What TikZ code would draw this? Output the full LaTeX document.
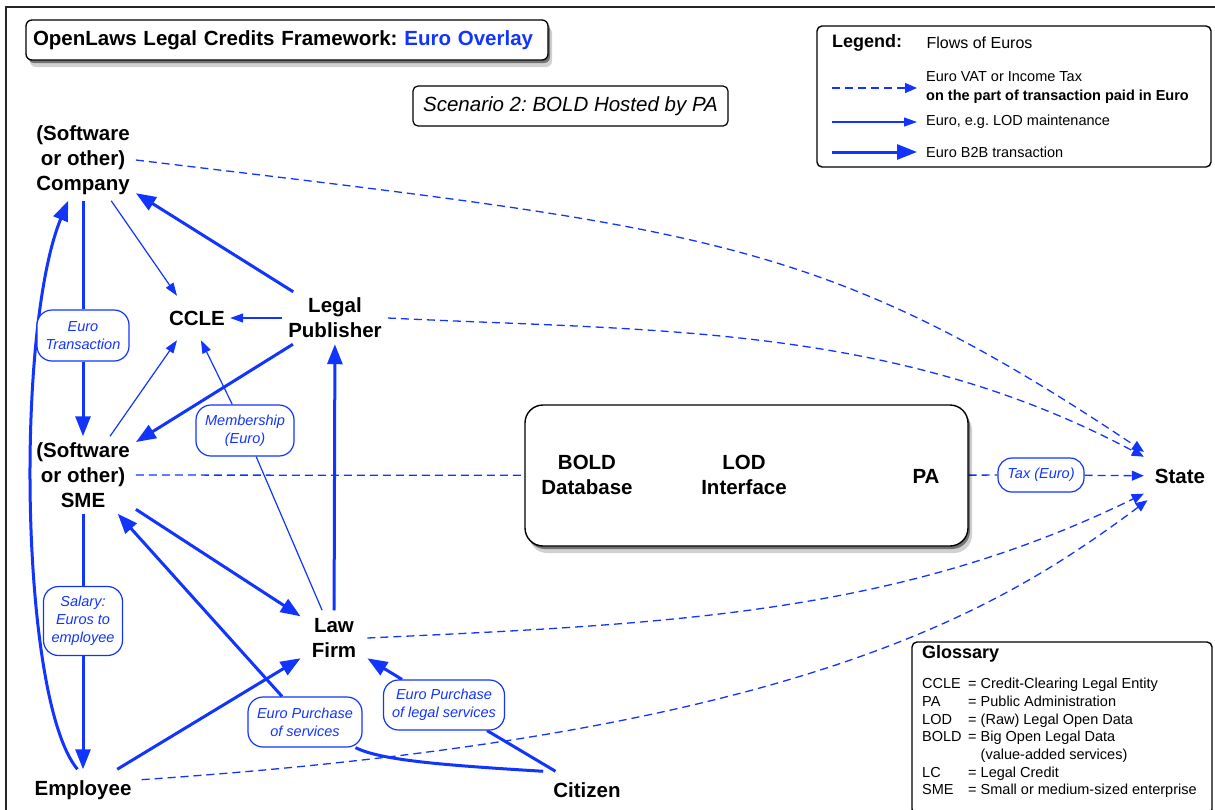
\documentclass[tikz,border=0pt]{standalone}
\usepackage{fontspec}
\setmainfont{Liberation Sans}
\frenchspacing
\usetikzlibrary{positioning,arrows.meta,shadows,backgrounds,calc}
\definecolor{flowblue}{RGB}{18,52,255}
\tikzstyle{actor}=[font=\fontsize{20.5}{25}\selectfont\bfseries, align=center,
                   inner xsep=6pt, inner ysep=6pt]
\tikzstyle{flowlabel}=[rectangle, rounded corners=15pt, draw=flowblue, fill=white,
                   line width=1.2pt, text=flowblue, align=center, inner sep=2pt,
                   font=\fontsize{14.5}{18}\selectfont\itshape]
\tikzstyle{boxshadow}=[drop shadow={shadow xshift=2pt,shadow yshift=-3pt,opacity=.45,fill=black},
                   drop shadow={shadow xshift=4pt,shadow yshift=-7pt,opacity=.18,fill=black}]
\tikzstyle{titlebox}=[rectangle, rounded corners=6pt, draw=black, line width=1.3pt, fill=white,
                   boxshadow, minimum height=40pt, text width=508pt, align=left, inner xsep=7pt,
                   font=\fontsize{20.5}{24}\selectfont\bfseries]
\tikzstyle{notebox}=[rectangle, rounded corners=5pt, draw=black, line width=1.2pt, fill=white,
                   minimum width=315pt, minimum height=40pt, font=\fontsize{20.5}{24}\selectfont\itshape]
\tikzstyle{hostbox}=[rectangle, rounded corners=18pt, draw=black, line width=1.4pt, fill=white,
                   boxshadow, minimum width=443pt, minimum height=141pt]
\tikzstyle{infobox}=[rectangle, rounded corners=5pt, draw=black, line width=1.4pt, fill=white]
\tikzstyle{legtitle}=[font=\fontsize{18}{22}\selectfont\bfseries, inner sep=0pt]
\tikzstyle{legtext}=[font=\fontsize{14.5}{19}\selectfont, align=left, inner xsep=9pt, inner ysep=0pt]
\tikzstyle{glosstext}=[font=\fontsize{14.5}{17.7}\selectfont, inner sep=0pt]
\tikzstyle{b2b}=[-, line width=3pt, draw=flowblue]
\tikzstyle{b2barrow}=[b2b, -{Triangle[length=20pt,width=15pt]}]
\tikzstyle{euro}=[-, line width=1.2pt, draw=flowblue]
\tikzstyle{euroarrow}=[euro, -{Triangle[length=13pt,width=9pt]}]
\tikzstyle{tax}=[-, line width=1.3pt, draw=flowblue, dash pattern=on 8pt off 5pt]
\tikzstyle{taxarrow}=[tax, -{Triangle[length=12pt,width=10pt]}]

\begin{document}
\begin{tikzpicture}[x=1pt, y=-1pt, node distance=0pt]
\useasboundingbox (0,0) rectangle (1215,809);

% headings
\node (TITLE) [titlebox] at (287,40) {OpenLaws Legal Credits Framework: \textcolor{flowblue}{Euro Overlay}};
\node (SCEN) [notebox] at (570.5,106) {Scenario 2: BOLD Hosted by PA};

% parties
\node (COMP) [actor] at (83,160) {(Software\\or other)\\Company};
\node (CCLE) [actor, minimum width=66pt, minimum height=44pt, inner sep=0pt] at (197,318) {CCLE};
\node (LP) [actor] at (335,318) {Legal\\Publisher};
\node (SME) [actor] at (83,475) {(Software\\or other)\\SME};
\node (LF) [actor, inner xsep=11pt, inner ysep=8pt] at (334,638) {Law\\Firm};
\node (EMP) [actor, inner xsep=10pt, inner ysep=11pt] at (83,790) {Employee};
\node (CIT) [actor, inner xsep=10pt, inner ysep=11pt] at (587,790) {Citizen};
\node (STATE) [actor, minimum width=72pt, minimum height=48pt] at (1180,476) {State};

% BOLD hosted by the PA
\node (BOLDBOX) [hostbox] at (746.5,475.5) {};
\node (BOLDDB) [actor] at (587,475) {BOLD\\Database};
\node (LODIF) [actor] at (744,475) {LOD\\Interface};
\node (PA) [actor] at (926,476) {PA};

% flow labels
\node (ETRANS) [flowlabel, minimum width=92pt, minimum height=51pt] at (83,335.5) {Euro\\Transaction};
\node (MEMB) [flowlabel, minimum width=98pt, minimum height=51pt] at (245,430.5) {Membership\\(Euro)};
\node (SAL) [flowlabel, minimum width=79pt, minimum height=69pt] at (83,621) {Salary:\\Euros to\\employee};
\node (EPS) [flowlabel, minimum width=114pt, minimum height=50pt] at (305,722) {Euro Purchase\\of services};
\node (EPL) [flowlabel, minimum width=121pt, minimum height=50pt] at (444,705) {Euro Purchase\\of legal services};
\node (TAX) [flowlabel, minimum width=86pt, minimum height=34pt, rounded corners=14pt] at (1041,475) {Tax (Euro)};

% legend
\node (LGBOX) [infobox, minimum width=394pt, minimum height=141pt] at (1014,96.5) {};
\node (LGHEAD) [legtitle, anchor=west] at (832,43) {Legend:};
\node (LGFLOW) [legtext, font=\fontsize{16}{19}\selectfont, right=15pt of LGHEAD] {Flows of Euros};
\coordinate (lgA) at (832,88);
\coordinate (lgB) at (832,122);
\coordinate (lgC) at (832,152);
\node (LGVAT) [legtext, right=85pt of lgA] {Euro VAT or Income Tax\\\textbf{on the part of transaction paid in Euro}};
\node (LGLOD) [legtext, right=85pt of lgB] {Euro, e.g. LOD maintenance};
\node (LGB2B) [legtext, right=85pt of lgC] {Euro B2B transaction};
\draw[taxarrow] (lgA) -- (LGVAT);
\draw[euroarrow] (lgB) -- (LGLOD);
\draw[b2barrow] (lgC) -- (LGB2B);

% glossary
\node (GLBOX) [infobox, minimum width=300pt, minimum height=172pt] at (1062,728) {};
\node (GLHEAD) [legtitle, anchor=west] at (922,654) {Glossary};
\node (GLTERMS) [glosstext, anchor=north west] at (922,676) {%
  \begin{tabular}{@{}p{46pt}@{}l@{}}
  CCLE & = Credit-Clearing Legal Entity\\
  PA   & = Public Administration\\
  LOD  & = (Raw) Legal Open Data\\
  BOLD & = Big Open Legal Data\\
       & \hphantom{=}\ (value-added services)\\
  LC   & = Legal Credit\\
  SME  & = Small or medium-sized enterprise
  \end{tabular}};

\begin{scope}[on background layer]
\draw[line width=1.4pt, black!85] (6,7) rectangle (1230,830);
% B2B flows
\draw[b2b] (COMP) -- (ETRANS);
\draw[b2barrow] (ETRANS) -- (SME);
\draw[b2barrow] (LP) -- (COMP);
\draw[b2barrow] (LP) -- (SME);
\draw[b2barrow] (LF) -- (LP);
\draw[b2barrow] (SME) -- (LF);
\draw[b2b] (SME) -- (SAL);
\draw[b2barrow] (SAL) -- (EMP);
\draw[b2barrow] (EMP) -- (LF);
\draw[b2barrow] (EMP.105) .. controls (20,700) and (15,330) .. (COMP.250);
\draw[b2b] (CIT.north west) .. controls (440,765) and (380,760) .. (EPS);
\draw[b2barrow] (EPS) -- (SME);
\draw[b2b] (CIT) -- (EPL);
\draw[b2barrow] (EPL) -- (LF);
% Euro flows to the CCLE
\draw[euroarrow] (COMP) -- (CCLE.132);
\draw[euroarrow] (SME) -- (CCLE.228);
\draw[euroarrow] (LP) -- (CCLE);
\draw[euro] (LF) -- (MEMB);
\draw[euroarrow] (MEMB) -- (CCLE.-80);
% tax flows
\draw[taxarrow] (COMP.east) .. controls (700,228) and (820,235) .. (STATE);
\draw[taxarrow] (LP.east) .. controls (650,331) and (893,323) .. (STATE);
\draw[tax] (SME) -- (BOLDBOX);
\draw[tax] (BOLDBOX) -- (TAX);
\draw[taxarrow] (TAX) -- (STATE);
\draw[taxarrow] (LF.east) .. controls (667,624) and (896,615) .. (STATE);
\draw[taxarrow] (EMP.10) .. controls (800,735) and (1000,610) .. (STATE);
\end{scope}

\end{tikzpicture}
\end{document}
